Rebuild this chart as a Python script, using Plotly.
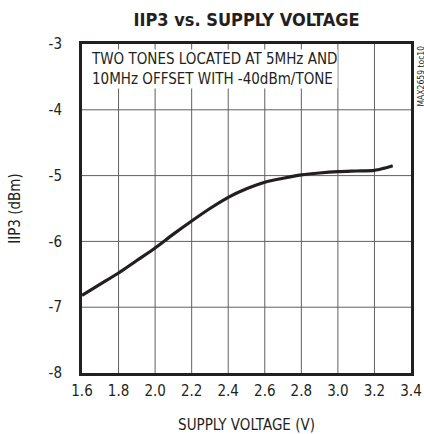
import plotly.graph_objects as go

voltage = [1.6, 1.7, 1.8, 1.9, 2.0, 2.1, 2.2, 2.3, 2.4, 2.5, 2.6, 2.7, 2.8, 2.9, 3.0, 3.1, 3.2, 3.25, 3.3]
iip3 = [-6.82, -6.65, -6.48, -6.29, -6.10, -5.89, -5.69, -5.50, -5.33, -5.20, -5.10, -5.04, -4.99, -4.96, -4.94, -4.93, -4.92, -4.89, -4.85]

x_ticks = [1.6, 1.8, 2.0, 2.2, 2.4, 2.6, 2.8, 3.0, 3.2, 3.4]
x_tick_labels = ["1.6", "1.8", "2.0", "2.2", "2.4", "2.6", "2.8", "3.0", "3.2", "3.4"]
y_ticks = [-8, -7, -6, -5, -4, -3]
y_tick_labels = ["-8", "-7", "-6", "-5", "-4", "-3"]

FONT = "DejaVu Sans Condensed, Liberation Sans Narrow, sans-serif"
INK = "#231f20"
GRID = "#606060"

x_min, x_max = x_ticks[0], x_ticks[-1]
y_min, y_max = y_ticks[0], y_ticks[-1]

# grid lines built from the tick arrays, drawn through the axes
grid_x, grid_y = [], []
for v in x_ticks[1:-1]:
    grid_x += [v, v, None]
    grid_y += [y_min, y_max, None]
for v in y_ticks[1:-1]:
    grid_x += [x_min, x_max, None]
    grid_y += [v, v, None]

fig = go.Figure()
fig.add_trace(go.Scatter(x=grid_x, y=grid_y, mode="lines",
                         line=dict(color=GRID, width=1),
                         showlegend=False, hoverinfo="skip"))
fig.add_trace(go.Scatter(x=voltage, y=iip3, mode="lines",
                         line=dict(color=INK, width=3.2, shape="spline", smoothing=0.8),
                         showlegend=False, hoverinfo="skip"))

fig.update_layout(
    template="none",
    width=424, height=434,
    margin=dict(l=82, r=13, t=44, b=61, autoexpand=False),
    paper_bgcolor="white", plot_bgcolor="white",
    font=dict(family=FONT, size=15, color=INK),
    title=dict(text="<b>IIP3 vs. SUPPLY VOLTAGE</b>", x=(82 + 411) / 2 / 424, xanchor="center",
               y=1 - 20 / 434, yanchor="middle",
               font=dict(family=FONT, size=18, color=INK)),
    xaxis=dict(range=[x_min, x_max], tickmode="array", tickvals=x_ticks, ticktext=x_tick_labels,
               showgrid=False,
               showline=True, linecolor=INK, linewidth=3, mirror=True,
               ticks="outside", ticklen=2, tickcolor="white", zeroline=False, automargin=False,
               title=dict(text="SUPPLY VOLTAGE (V)", standoff=21, font=dict(size=15))),
    yaxis=dict(range=[y_min, y_max], tickmode="array", tickvals=y_ticks, ticktext=y_tick_labels,
               showgrid=False,
               showline=True, linecolor=INK, linewidth=3, mirror=True,
               ticks="outside", ticklen=14, tickcolor="white", zeroline=False, automargin=False,
               title=dict(text="IIP3 (dBm)", standoff=25, font=dict(size=15))),
)

fig.add_annotation(xref="paper", yref="paper", x=0.025, y=0.985, xanchor="left", yanchor="top",
                   text="TWO TONES LOCATED AT 5MHz AND<br>10MHz OFFSET WITH -40dBm/TONE",
                   showarrow=False, align="left", bgcolor="white", borderpad=0,
                   font=dict(family=FONT, size=15, color=INK))

fig.add_annotation(xref="paper", yref="paper", x=1.0, y=1.0, xanchor="left", yanchor="top",
                   xshift=2, yshift=0,
                   text="MAX2659 toc10", textangle=-90, showarrow=False,
                   font=dict(family=FONT, size=8.5, color=INK))

fig.write_html("out.html", post_script="document.body.style.margin='0';document.body.style.padding='0';",
               config={"displayModeBar": False})
